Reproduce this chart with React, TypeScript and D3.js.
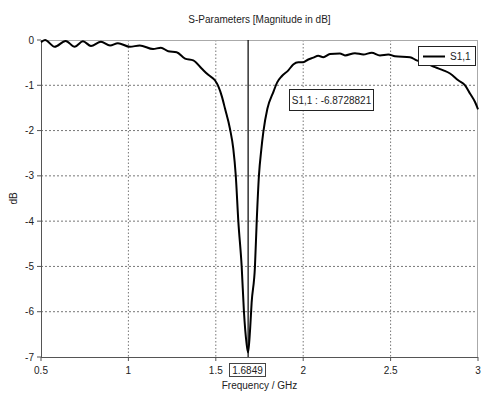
import React from "react";
import * as d3 from "d3";

const freq = [0.5, 0.523, 0.578, 0.641, 0.693, 0.74, 0.786, 0.843, 0.895, 0.94, 1.009, 1.065, 1.141, 1.186, 1.228, 1.276, 1.324, 1.371, 1.419, 1.457, 1.495, 1.514, 1.535, 1.553, 1.581, 1.6, 1.614, 1.629, 1.648, 1.661, 1.676, 1.6849, 1.696, 1.705, 1.724, 1.734, 1.747, 1.76, 1.772, 1.795, 1.829, 1.852, 1.877, 1.915, 1.943, 1.972, 2.0, 2.029, 2.058, 2.086, 2.115, 2.153, 2.21, 2.239, 2.296, 2.344, 2.392, 2.439, 2.487, 2.525, 2.611, 2.649, 2.707, 2.754, 2.802, 2.84, 2.887, 2.926, 2.954, 2.983, 3.0];
const s11 = [-0.05, 0.0, -0.15, -0.02, -0.15, -0.03, -0.13, -0.04, -0.12, -0.07, -0.15, -0.12, -0.2, -0.17, -0.25, -0.27, -0.41, -0.45, -0.63, -0.77, -0.89, -1.02, -1.25, -1.52, -1.96, -2.4, -2.98, -4.01, -5.0, -6.0, -6.7, -6.9, -6.4, -5.8, -5.0, -4.01, -2.98, -2.43, -2.03, -1.52, -1.15, -0.93, -0.8, -0.67, -0.54, -0.49, -0.49, -0.43, -0.39, -0.35, -0.38, -0.31, -0.3, -0.34, -0.29, -0.32, -0.28, -0.34, -0.32, -0.36, -0.38, -0.45, -0.52, -0.6, -0.67, -0.74, -0.89, -1.0, -1.18, -1.37, -1.53];
const xTicks = [0.5, 1, 1.5, 2, 2.5, 3];
const yTicks = [0, -1, -2, -3, -4, -5, -6, -7];
const markerFreq = 1.6849;
const markerLabel = "1.6849";
const markerValueLabel = "S1,1 : -6.8728821";
const seriesName = "S1,1";
const title = "S-Parameters [Magnitude in dB]";
const xLabel = "Frequency / GHz";
const yLabel = "dB";

const W = 501, H = 396;
const L = 41, R = 478, T = 40, B = 357;
const FONT = "'Liberation Sans', Arial, sans-serif";
const FS = 10;

export default function App() {
  const x = d3.scaleLinear().domain([0.5, 3]).range([L, R]);
  const y = d3.scaleLinear().domain([0, -7]).range([T, B]);
  const pts: [number, number][] = freq.map((f, i) => [f, s11[i]]);
  const line = d3.line<[number, number]>().x(d => x(d[0])).y(d => y(d[1])).curve(d3.curveMonotoneX);
  const mx = x(markerFreq);
  return (
    <svg width={W} height={H} style={{ position: "absolute", left: 0, top: 0, background: "#fff" }} fontFamily={FONT}>
      <rect x={0} y={0} width={W} height={H} fill="#fff" />
      <text x={(L + R) / 2} y={23} textAnchor="middle" fontSize={FS} fill="#222">{title}</text>
      {xTicks.slice(1, -1).map(t => (
        <line key={"gx" + t} x1={x(t)} x2={x(t)} y1={T} y2={B} stroke="#777" strokeWidth={1} strokeDasharray="1.5,2" />
      ))}
      {yTicks.slice(1, -1).map(t => (
        <line key={"gy" + t} x1={L} x2={R} y1={y(t)} y2={y(t)} stroke="#777" strokeWidth={1} strokeDasharray="2,2" />
      ))}
      <line x1={L} x2={R} y1={T + 0.5} y2={T + 0.5} stroke="#aaa" />
      <line x1={R - 0.5} x2={R - 0.5} y1={T} y2={B} stroke="#aaa" />
      <line x1={L + 0.5} x2={L + 0.5} y1={T} y2={B} stroke="#555" />
      <line x1={L} x2={R} y1={B + 0.5} y2={B + 0.5} stroke="#555" />
      {xTicks.map(t => (
        <g key={"xt" + t}>
          <line x1={x(t)} x2={x(t)} y1={B} y2={B + 4} stroke="#555" />
          <text x={x(t)} y={374} textAnchor="middle" fontSize={FS} fill="#222">{String(t)}</text>
        </g>
      ))}
      {yTicks.map(t => (
        <g key={"yt" + t}>
          <line x1={L - 4} x2={L} y1={y(t)} y2={y(t)} stroke="#555" />
          <text x={34} y={y(t) + 3.5} textAnchor="end" fontSize={FS} fill="#222">{String(t)}</text>
        </g>
      ))}
      <path d={line(pts) || ""} fill="none" stroke="#000" strokeWidth={2} strokeLinejoin="round" />
      <line x1={mx} x2={mx} y1={T} y2={B} stroke="#000" strokeWidth={1.2} />
      <rect x={229.5} y={363.5} width={36} height={13} fill="#fff" stroke="#444" />
      <text x={247.5} y={374} textAnchor="middle" fontSize={FS} fill="#222">{markerLabel}</text>
      <rect x={289.5} y={89.5} width={84} height={21} fill="#fff" stroke="#222" />
      <text x={331.5} y={104} textAnchor="middle" fontSize={FS} fill="#222">{markerValueLabel}</text>
      <rect x={418.5} y={46.5} width={57} height={19} fill="#fff" stroke="#222" />
      <line x1={423} x2={445} y1={56.5} y2={56.5} stroke="#000" strokeWidth={2} />
      <text x={450} y={60} fontSize={FS} fill="#222">{seriesName}</text>
      <text x={(L + R) / 2} y={389} textAnchor="middle" fontSize={FS} fill="#222">{xLabel}</text>
      <text transform={`translate(17,${(T + B) / 2}) rotate(-90)`} textAnchor="middle" fontSize={FS} fill="#222">{yLabel}</text>
    </svg>
  );
}
